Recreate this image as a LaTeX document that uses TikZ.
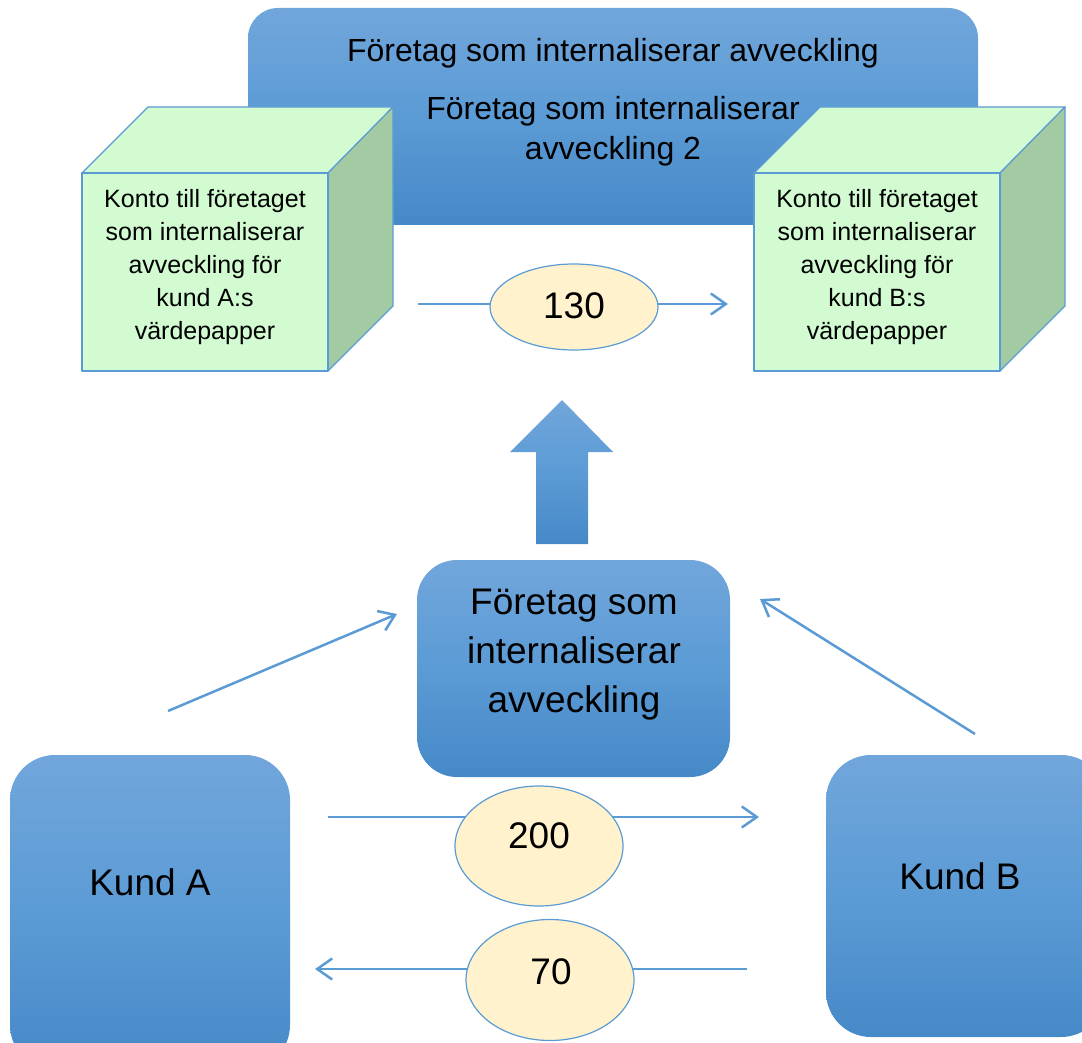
\documentclass[tikz,border=0pt]{standalone}
\usepackage{fontspec}
\setmainfont{Liberation Sans}
\usetikzlibrary{arrows.meta,shapes.geometric}
\definecolor{lineblue}{RGB}{91,155,213}
\definecolor{gtop}{RGB}{113,166,219}
\definecolor{gmid}{RGB}{91,155,213}
\definecolor{gbot}{RGB}{70,137,200}
\definecolor{greenface}{RGB}{210,251,210}
\definecolor{greenside}{RGB}{163,203,163}
\definecolor{ellfill}{RGB}{255,242,204}
\tikzset{
  bluebox/.style={top color=gtop, bottom color=gbot, middle color=gmid, draw=none, inner sep=0pt},
  face/.style={fill=greenface, draw=lineblue, line width=1.2pt, line join=round},
  sideface/.style={fill=greenside, draw=lineblue, line width=1.2pt, line join=round},
  numell/.style={ellipse, fill=ellfill, draw=lineblue, line width=1.2pt, inner sep=0pt},
  flow/.style={draw=lineblue, line width=2.5pt, -{Straight Barb[length=15pt,width=21pt,line width=2.5pt]}},
  plain/.style={draw=lineblue, line width=2.5pt},
  cubetext/.style={align=center, font=\fontsize{25}{33}\selectfont, inner sep=0pt},
  bigtext/.style={font=\fontsize{37}{49}\selectfont, inner sep=0pt},
}
\begin{document}
\begin{tikzpicture}[x=1pt,y=-1pt]
\useasboundingbox (0,0) rectangle (1082,1043);
\clip (0,0) rectangle (1082,1043);

% top big box
\node[bluebox, rounded corners=30pt, minimum width=730pt, minimum height=217pt] (topbox) at (613,116.5) {};
\node[anchor=base, font=\fontsize{32}{40}\selectfont, inner sep=0pt] (toptitle) at (613,62) {Företag som internaliserar avveckling};
\node[align=center, font=\fontsize{32}{40}\selectfont, inner sep=0pt] (toptwo) at (613,131.6) {Företag som internaliserar\\avveckling 2};

% left cube
\filldraw[face] (82,173) -- (148,107) -- (393,107) -- (328,173) -- cycle;
\filldraw[sideface] (328,173) -- (393,107) -- (393,306) -- (328,371) -- cycle;
\node[face, minimum width=246pt, minimum height=198pt, inner sep=0pt] (cubeA) at (205,272) {};
\node[cubetext] (cubeAtext) at (205,267.4) {Konto till företaget\\som internaliserar\\avveckling för\\kund A:s\\värdepapper};

% right cube
\filldraw[face] (754,173) -- (820,107) -- (1065,107) -- (1000,173) -- cycle;
\filldraw[sideface] (1000,173) -- (1065,107) -- (1065,306) -- (1000,371) -- cycle;
\node[face, minimum width=246pt, minimum height=198pt, inner sep=0pt] (cubeB) at (877,272) {};
\node[cubetext] (cubeBtext) at (877,267.4) {Konto till företaget\\som internaliserar\\avveckling för\\kund B:s\\värdepapper};

% 130 transfer
\coordinate (s130) at (418,304);
\coordinate (e130end) at (728,304);
\draw[flow] (s130) -- (e130end);
\node[numell, minimum width=168pt, minimum height=86pt] (e130) at (574,307) {};
\node[bigtext, anchor=base] (t130) at (574,318) {130};

% block arrow up
\shade[top color=gtop, bottom color=gbot, middle color=gmid]
  (510,452) -- (562,400) -- (613,452) -- (588,452) -- (588,544) -- (536,544) -- (536,452) -- cycle;

% middle box
\node[bluebox, rounded corners=40pt, minimum width=313pt, minimum height=217pt] (midbox) at (573.5,668.5) {};
\node[bigtext, align=center] (midtext) at (574,655) {Företag som\\internaliserar\\avveckling};

% diagonal arrows
\coordinate (dA1) at (168,711);
\coordinate (dA2) at (397,614);
\coordinate (dB1) at (975,734);
\coordinate (dB2) at (760,599);
\draw[flow] (dA1) -- (dA2);
\draw[flow] (dB1) -- (dB2);

% customers
\node[bluebox, rounded corners=45pt, minimum width=280pt, minimum height=315pt] (kundA) at (150,912.5) {};
\node[bigtext, anchor=base] (kundAtext) at (150,895) {Kund A};
\node[bluebox, rounded corners=45pt, minimum width=280pt, minimum height=282pt] (kundB) at (966,896) {};
\node[bigtext, anchor=base] (kundBtext) at (960,889) {Kund B};

% 200 transfer
\coordinate (s200) at (328,817);
\coordinate (e200end) at (759,817);
\draw[flow] (s200) -- (e200end);
\node[numell, minimum width=168pt, minimum height=120pt] (e200) at (539,846) {};
\node[bigtext, anchor=base] (t200) at (539,848) {200};

% 70 transfer
\coordinate (s70) at (747,969);
\coordinate (e70end) at (315,969);
\draw[flow] (s70) -- (e70end);
\node[numell, minimum width=168pt, minimum height=121pt] (e70) at (550,980) {};
\node[bigtext, anchor=base] (t70) at (551,984) {70};
\end{tikzpicture}
\end{document}
